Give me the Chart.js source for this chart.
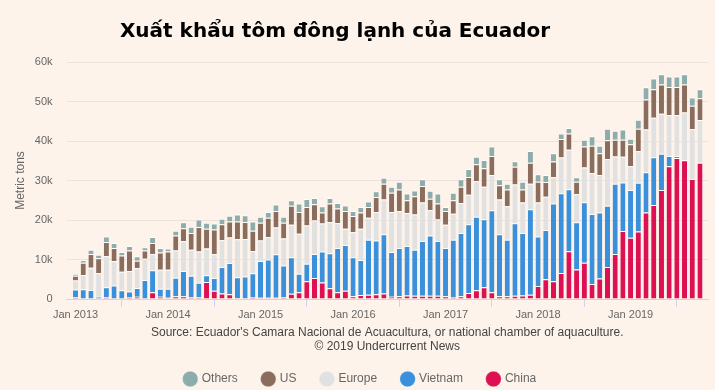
<!DOCTYPE html>
<html><head><meta charset="utf-8">
<script src="https://cdn.jsdelivr.net/npm/chart.js@4"></script>
<style>
html,body{margin:0;padding:0;background:#fdf3ea;}
#wrap{position:relative;width:715px;height:390px;overflow:hidden;}
#title{position:absolute;top:18px;left:0;width:670px;text-align:center;font:bold 20px "DejaVu Sans",sans-serif;line-height:24px;color:#000;}
canvas{position:absolute;left:0;top:0;}
</style></head><body>
<div id="wrap"><canvas id="c" width="715" height="390"></canvas><div id="title">Xuất khẩu tôm đông lạnh của Ecuador</div></div>
<script>
const categories = [
 'Jan 2013','Feb 2013','Mar 2013','Apr 2013','May 2013','Jun 2013','Jul 2013','Aug 2013','Sep 2013','Oct 2013','Nov 2013','Dec 2013',
 'Jan 2014','Feb 2014','Mar 2014','Apr 2014','May 2014','Jun 2014','Jul 2014','Aug 2014','Sep 2014','Oct 2014','Nov 2014','Dec 2014',
 'Jan 2015','Feb 2015','Mar 2015','Apr 2015','May 2015','Jun 2015','Jul 2015','Aug 2015','Sep 2015','Oct 2015','Nov 2015','Dec 2015',
 'Jan 2016','Feb 2016','Mar 2016','Apr 2016','May 2016','Jun 2016','Jul 2016','Aug 2016','Sep 2016','Oct 2016','Nov 2016','Dec 2016',
 'Jan 2017','Feb 2017','Mar 2017','Apr 2017','May 2017','Jun 2017','Jul 2017','Aug 2017','Sep 2017','Oct 2017','Nov 2017','Dec 2017',
 'Jan 2018','Feb 2018','Mar 2018','Apr 2018','May 2018','Jun 2018','Jul 2018','Aug 2018','Sep 2018','Oct 2018','Nov 2018','Dec 2018',
 'Jan 2019','Feb 2019','Mar 2019','Apr 2019','May 2019','Jun 2019','Jul 2019','Aug 2019','Sep 2019','Oct 2019'
];
const tickLabels = ['Jan 2013','Jan 2014','Jan 2015','Jan 2016','Jan 2017','Jan 2018','Jan 2019'];
const yTickLabels = ['0','10k','20k','30k','40k','50k','60k'];
// thousand metric tons
const china = [
 0.4,0,0,0.1,0.4,0,0,0.5,0.6,0,1.7,0.6,
 0.3,0.7,0.7,0.4,0.4,4.3,2.1,1.4,1.2,0.2,0.1,0.5,
 0.3,0.3,0.3,0.4,1.3,1.7,4.5,5.3,4.2,2.7,1.7,2.1,
 0.7,1.0,1.1,1.2,1.4,0.6,0.7,0.9,0.8,0.8,0.8,0.8,
 0.7,0.5,0.7,1.5,2.2,3.0,1.7,0.7,0.7,0.8,0.9,1.1,
 3.3,5.0,4.5,6.6,12.1,7.5,9.2,3.8,5.2,8.1,11.4,17.2,
 15.5,17.1,21.9,23.8,27.6,33.6,35.7,35.1,30.4,34.5
];
const vietnam = [
 2.0,2.5,2.3,0.5,2.6,3.4,2.2,1.4,2.2,4.8,5.6,2.0,
 2.3,4.7,6.4,5.5,3.7,1.7,3.2,6.7,7.9,5.3,5.6,6.0,
 9.3,9.7,11.0,8.1,9.3,4.7,4.4,6.1,7.8,8.9,11.2,11.6,
 9.9,8.9,13.9,13.6,15.0,11.3,12.2,12.5,11.7,13.9,15.3,13.9,
 12.2,14.5,16.0,17.4,18.6,17.2,20.8,15.7,14.3,18.4,15.8,21.6,
 12.5,12.5,19.7,20.2,15.7,11.9,15.3,17.7,16.7,15.5,17.8,12.3,
 12.1,12.3,10.2,12.1,9.2,2.6,0.5,0.1,0,0
];
const europe = [
 2.3,3.6,5.6,5.9,7.8,6.2,4.7,5.2,5.0,5.4,4.1,4.8,
 4.8,6.9,7.5,6.6,7.9,6.8,6.0,6.8,6.5,9.6,9.5,5.6,
 5.2,5.7,6.8,6.8,8.2,10.1,9.7,8.5,7.1,7.9,6.3,4.1,
 6.3,7.9,5.6,7.2,8.8,10.1,9.3,8.4,8.9,9.7,6.4,5.4,
 5.9,6.6,7.6,7.5,9.0,8.2,8.9,8.8,8.5,9.8,7.7,6.5,
 8.6,8.4,6.6,9.0,10.0,7.1,8.8,10.4,9.5,11.8,6.9,6.5,
 6.0,8.0,10.8,10.0,10.1,10.3,10.3,12.0,12.6,10.8
];
const us = [
 1.2,3.1,3.5,3.8,3.6,3.3,4.1,5.2,1.9,2.1,2.8,4.4,
 4.6,3.8,3.3,4.2,6.2,5.0,6.3,4.0,4.0,4.5,4.3,5.2,
 4.5,4.9,4.2,4.0,4.8,5.5,4.7,4.1,2.8,4.7,3.7,4.5,
 4.1,4.1,2.7,3.8,4.0,4.9,5.5,3.2,4.6,4.2,2.9,4.1,
 3.5,3.4,4.1,4.5,4.3,4.7,4.8,3.6,4.2,4.5,3.3,5.3,
 5.3,3.7,4.0,4.7,4.1,3.2,5.3,6.9,5.5,4.8,4.2,4.3,
 5.6,5.7,7.6,7.2,7.4,7.2,7.2,7.1,5.9,5.5
];
const others = [
 0.5,0.7,1.1,0.9,1.4,1.3,0.9,1.1,1.1,0.8,1.5,1.1,
 0.8,1.2,1.5,1.6,1.9,1.5,1.5,1.4,1.5,1.8,1.7,2.3,
 1.5,1.4,1.6,1.5,1.4,2.2,2.0,1.6,1.6,1.4,1.4,1.4,
 1.3,1.4,1.4,1.5,1.5,1.5,2.0,1.7,1.5,1.7,2.0,2.5,
 1.0,1.9,1.9,2.0,1.9,2.1,2.4,1.5,1.5,1.4,2.0,3.0,
 1.9,1.8,2.1,1.4,1.4,1.1,1.7,2.4,1.9,2.9,2.3,2.6,
 1.4,2.3,3.1,2.7,2.6,2.6,2.6,2.6,2.1,2.3
];
const seriesNames = ['China','Vietnam','Europe','US','Others'];
const seriesColors = ['#dc1052','#3a90da','#e1e1e1','#8b6d5e','#8cadab'];
const seriesData = [china, vietnam, europe, us, others];
const sourceLines = ["Source: Ecuador's Camara Nacional de Acuacultura, or national chamber of aquaculture.", '© 2019 Undercurrent News'];

const tickIdx = categories.map((c,i)=> tickLabels.includes(c) ? i : -1).filter(i=>i>=0);

Chart.defaults.font.family = '"Liberation Sans", Arial, sans-serif';

new Chart(document.getElementById('c'), {
  type: 'bar',
  data: {
    datasets: seriesNames.map((name, k) => ({
      label: name,
      data: seriesData[k].map((v, i) => ({x: i, y: v})),
      backgroundColor: seriesColors[k],
      borderColor: '#ffffff',
      borderWidth: {top: 1, left: 0, right: 0, bottom: 0},
      borderSkipped: false,
      barPercentage: 0.66,
      categoryPercentage: 1
    }))
  },
  options: {
    responsive: false,
    animation: false,
    layout: {padding: {left: 13, right: 7, top: 62, bottom: -5}},
    scales: {
      x: {
        type: 'linear', stacked: true, min: -1.17, max: 82.04, offset: false,
        afterBuildTicks: s => { s.ticks = tickIdx.map(v => ({value: v})); },
        ticks: {autoSkip: false, maxRotation: 0, color: '#666', font: {size: 11}, padding: 1,
          callback: v => categories[v]},
        grid: {drawOnChartArea: false, color: '#ccd6eb', tickLength: 8},
        border: {color: '#ccd6eb'}
      },
      y: {
        stacked: true, min: 0, max: 60,
        afterFit: s => { s.width = 53.5; },
        ticks: {stepSize: 10, color: '#666', font: {size: 11}, padding: 14,
          callback: (v, i) => yTickLabels[i]},
        grid: {color: '#ebe3dc', drawTicks: false},
        border: {display: false},
        title: {display: true, text: 'Metric tons', color: '#666', font: {size: 12}, padding: {top: 0, bottom: 0}}
      }
    },
    plugins: {
      legend: {
        position: 'bottom', reverse: true,
        labels: {usePointStyle: true, pointStyle: 'circle', boxWidth: 11, boxHeight: 11, padding: 25, color: '#666', font: {size: 12}}
      },
      subtitle: {
        display: true, position: 'bottom', weight: 500, fullSize: false,
        text: sourceLines, color: '#444', font: {size: 12, weight: 'normal'}, padding: {top: 3, bottom: -6}
      },
      tooltip: {enabled: false}
    }
  }
});
</script>
</body></html>
